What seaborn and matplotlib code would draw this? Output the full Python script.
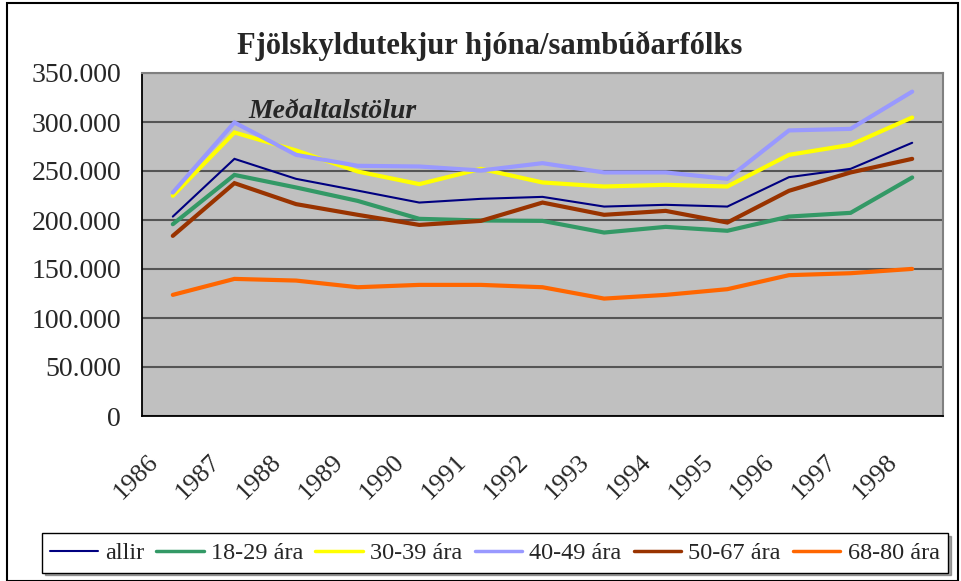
import matplotlib
matplotlib.use('Agg')
import matplotlib.pyplot as plt
import matplotlib.transforms as mtransforms
from matplotlib.patches import Rectangle
from matplotlib.lines import Line2D
from matplotlib.ticker import FuncFormatter
import seaborn as sns
import numpy as np
import pandas as pd

# Gögn (lesin af myndinni)
years = ['1986', '1987', '1988', '1989', '1990', '1991', '1992',
         '1993', '1994', '1995', '1996', '1997', '1998']
allir = [203500, 262400, 242000, 230000, 217800, 221600, 223600,
         213700, 215500, 213700, 243700, 252200, 278800]
ara_18_29 = [195700, 246000, 233200, 219500, 201200, 199500, 199100,
             187200, 193000, 189000, 203500, 207300, 243400]
ara_30_39 = [224700, 289300, 271000, 249500, 236600, 252200, 238300,
             234200, 235900, 234200, 266500, 276700, 304600]
ara_40_49 = [228000, 299500, 266500, 255300, 254600, 250500, 258000,
             248500, 248500, 242000, 291400, 293000, 331000]
ara_50_67 = [183800, 237600, 216200, 205300, 195000, 199100, 217800,
             205300, 209300, 197400, 229800, 248500, 262400]
ara_68_80 = [123600, 139900, 138200, 131400, 133800, 133800, 131400,
             119800, 123600, 129400, 143700, 145700, 150100]

series = ['allir', '18-29 ára', '30-39 ára', '40-49 ára', '50-67 ára', '68-80 ára']
colors = ['#000080', '#339966', '#FFFF00', '#9999FF', '#993300', '#FF6600']
widths = [1.5, 3.0, 3.0, 3.0, 3.0, 3.0]

values = [allir, ara_18_29, ara_30_39, ara_40_49, ara_50_67, ara_68_80]
df = pd.concat([pd.DataFrame({'x': np.arange(len(years)), 'value': v, 'hopur': s})
                for s, v in zip(series, values)], ignore_index=True)

sns.set_style('white')
plt.rcParams['font.family'] = ['Liberation Serif', 'DejaVu Serif']

fig = plt.figure(figsize=(9.61, 5.81), dpi=100)
ax = fig.add_axes([142 / 961, 1 - 416 / 581, (943 - 142) / 961, (416 - 73) / 581])
ax.set_facecolor('#C0C0C0')

sns.lineplot(data=df, x='x', y='value', hue='hopur', hue_order=series,
             palette=dict(zip(series, colors)), ax=ax, legend=False)
for line, lw in zip(ax.get_lines(), widths):
    line.set_linewidth(lw)
    line.set_solid_joinstyle('miter')

ax.set_xlim(-0.5, len(years) - 0.5)
ax.set_ylim(0, 350000)
ax.set_yticks(np.arange(0, 350001, 50000))
ax.yaxis.set_major_formatter(FuncFormatter(
    lambda v, p: '0' if v == 0 else f'{int(v):,}'.replace(',', '.')))
ax.grid(axis='y', color='#555555', linewidth=1.5)
ax.set_axisbelow(True)

# tick-strik á mörkum flokka, árin á miðjum flokkum
ax.set_xticks(np.arange(-0.5, len(years)), labels=[])
ax.set_xticks(np.arange(len(years)), labels=years, minor=True)
ax.tick_params(axis='x', which='major', length=7, width=1.2, color='black', direction='out')
ax.tick_params(axis='x', which='minor', length=0, pad=0, labelsize=19)
ax.tick_params(axis='y', length=7, width=1.2, color='black', direction='out',
               labelsize=20, pad=8)
offset = mtransforms.ScaledTranslation(-0.18, -0.42, fig.dpi_scale_trans)
for lab in ax.get_xticklabels(minor=True):
    lab.set_rotation(45)
    lab.set_ha('right')
    lab.set_va('center')
    lab.set_rotation_mode('anchor')
    lab.set_transform(lab.get_transform() + offset)

ax.set_xlabel('')
ax.set_ylabel('')
for side in ['left', 'bottom']:
    ax.spines[side].set_color('black')
    ax.spines[side].set_linewidth(1.3)
for side in ['top', 'right']:
    ax.spines[side].set_color('#808080')
    ax.spines[side].set_linewidth(1.5)

fig.text(490 / 961, 1 - 46 / 581, 'Fjölskyldutekjur hjóna/sambúðarfólks',
         ha='center', va='center', fontsize=22, fontweight='bold')
fig.text(248 / 961, 1 - 111 / 581, 'Meðaltalstölur', ha='left', va='center',
         fontsize=20, fontweight='bold', fontstyle='italic')

handles = [Line2D([], [], color=c, lw=lw) for c, lw in zip(colors, [1.5] + [2.5] * 5)]
leg = fig.legend(handles, series, loc='center', bbox_to_anchor=(495 / 961, 1 - 553 / 581),
                 ncol=6, frameon=True, fancybox=False, shadow=True, fontsize=17.5,
                 handlelength=1.95, handletextpad=0.3, columnspacing=0.5,
                 borderpad=0.35)
leg.get_frame().set_edgecolor('black')
leg.get_frame().set_linewidth(1.0)

fig.patches.append(Rectangle((7 / 961, 0.0), 951 / 961, 1 - 3 / 581,
                             transform=fig.transFigure, fill=False,
                             edgecolor='black', linewidth=1.5))

plt.savefig('out.png', dpi=100)
plt.close()
